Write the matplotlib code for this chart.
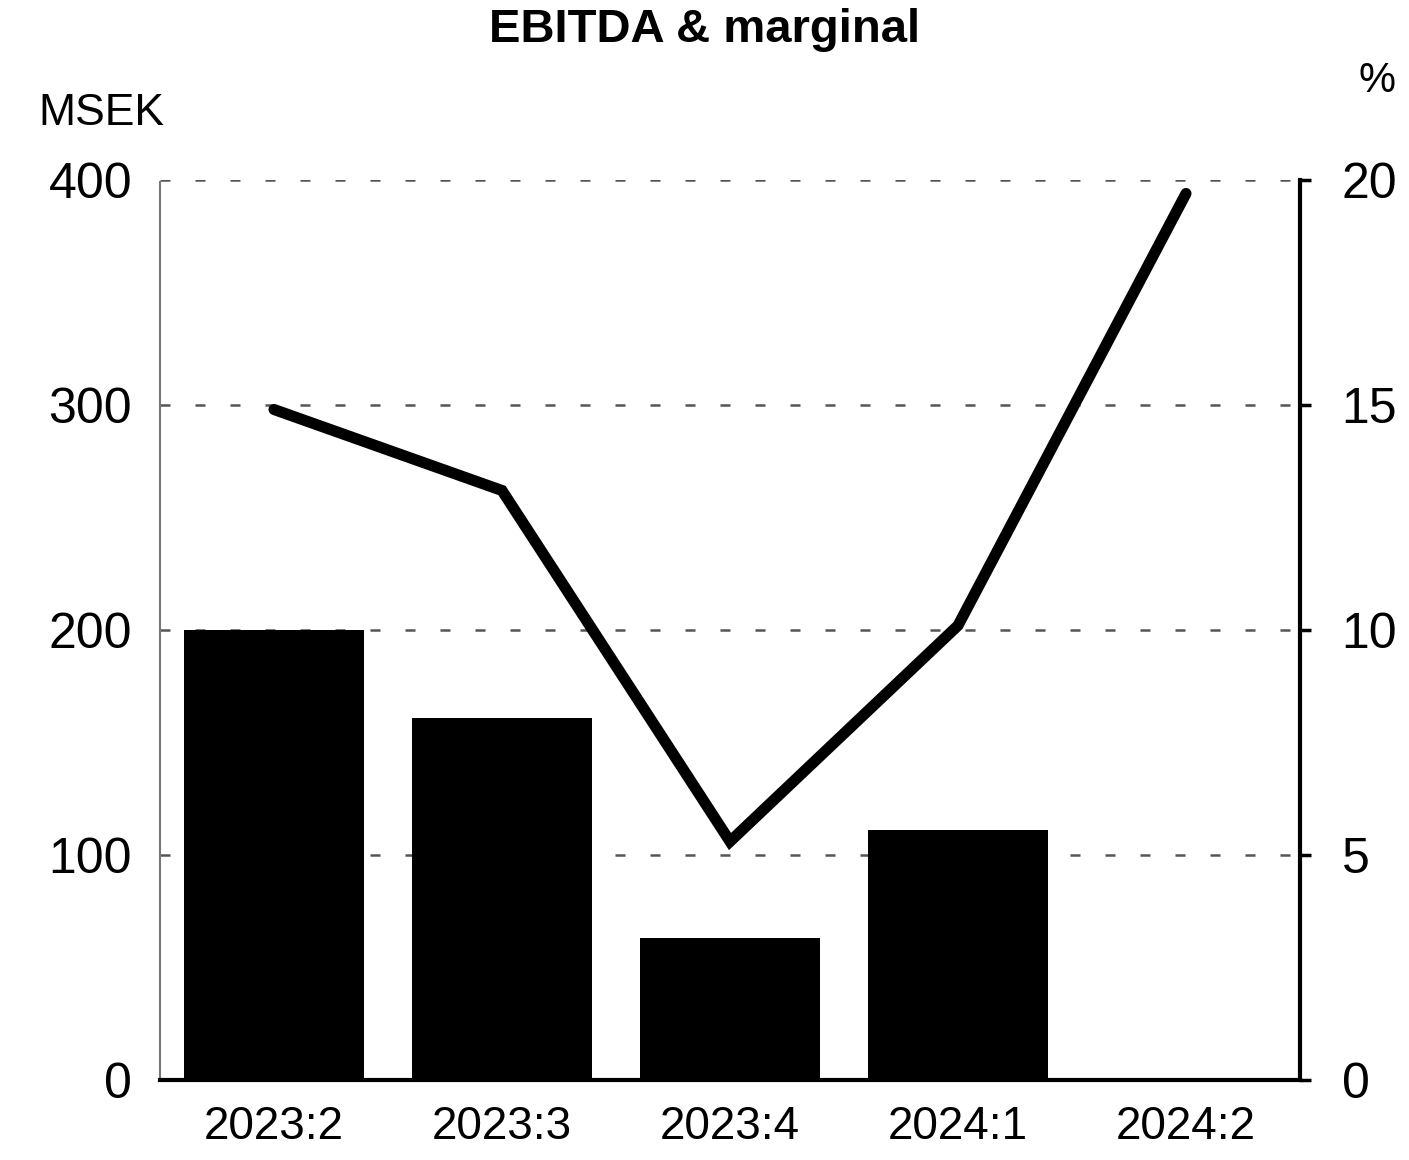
import matplotlib
matplotlib.use("Agg")
import matplotlib.pyplot as plt
import numpy as np

plt.rcParams['font.family'] = ['Liberation Sans', 'DejaVu Sans']

categories = ["2023:2", "2023:3", "2023:4", "2024:1", "2024:2"]
ebitda_msek = [200, 161, 63, 111, 0]
margin_pct = [14.9, 13.1, 5.3, 10.1, 19.7]
left_ticks = [0, 100, 200, 300, 400]
right_ticks = [0, 5, 10, 15, 20]

fig = plt.figure(figsize=(14.09, 11.6), dpi=100)
ax = fig.add_axes([160/1409, 80/1160, 1140/1409, 900/1160])
x = np.arange(len(categories))

ax.bar(x, ebitda_msek, width=0.79, color='black', zorder=2)
ax.set_xlim(-0.5, 4.5)
ax.set_ylim(0, 400)
ax.set_yticks(left_ticks)
ax.set_yticklabels([str(t) for t in left_ticks], fontsize=36)
ax.set_xticks(x)
ax.set_xticklabels(categories, fontsize=33)
ax.tick_params(axis='y', length=0, pad=20)
ax.tick_params(axis='x', length=0, pad=18)
for v in left_ticks[1:]:
    ax.axhline(v, color='#555555', lw=1.8, ls=(0, (4, 10)), zorder=1)

ax.spines['top'].set_visible(False)
ax.spines['left'].set_color('#777777')
ax.spines['left'].set_linewidth(1.5)
ax.spines['left'].set_linestyle((0, (2, 1)))
ax.spines['bottom'].set_linewidth(3)
ax.spines['right'].set_visible(False)

ax2 = ax.twinx()
ax2.plot(x, margin_pct, color='black', lw=8, solid_capstyle='round', solid_joinstyle='miter', zorder=3)
ax2.set_ylim(0, 20)
ax2.set_yticks(right_ticks)
ax2.set_yticklabels([str(t) for t in right_ticks], fontsize=36)
ax2.tick_params(axis='y', length=8, width=2.5, pad=22)
ax2.spines['right'].set_linewidth(3)
ax2.spines['top'].set_visible(False)
ax2.spines['left'].set_visible(False)
ax2.spines['bottom'].set_visible(False)

fig.text(38/1409, 1 - 125/1160, "MSEK", fontsize=32, ha='left', va='baseline')
fig.text(1358/1409, 1 - 92/1160, "%", fontsize=30, ha='left', va='baseline')
fig.text(0.5, 1 - 42/1160, "EBITDA & marginal", fontsize=34, fontweight='bold', ha='center', va='baseline')

fig.savefig("out.png", dpi=100)
